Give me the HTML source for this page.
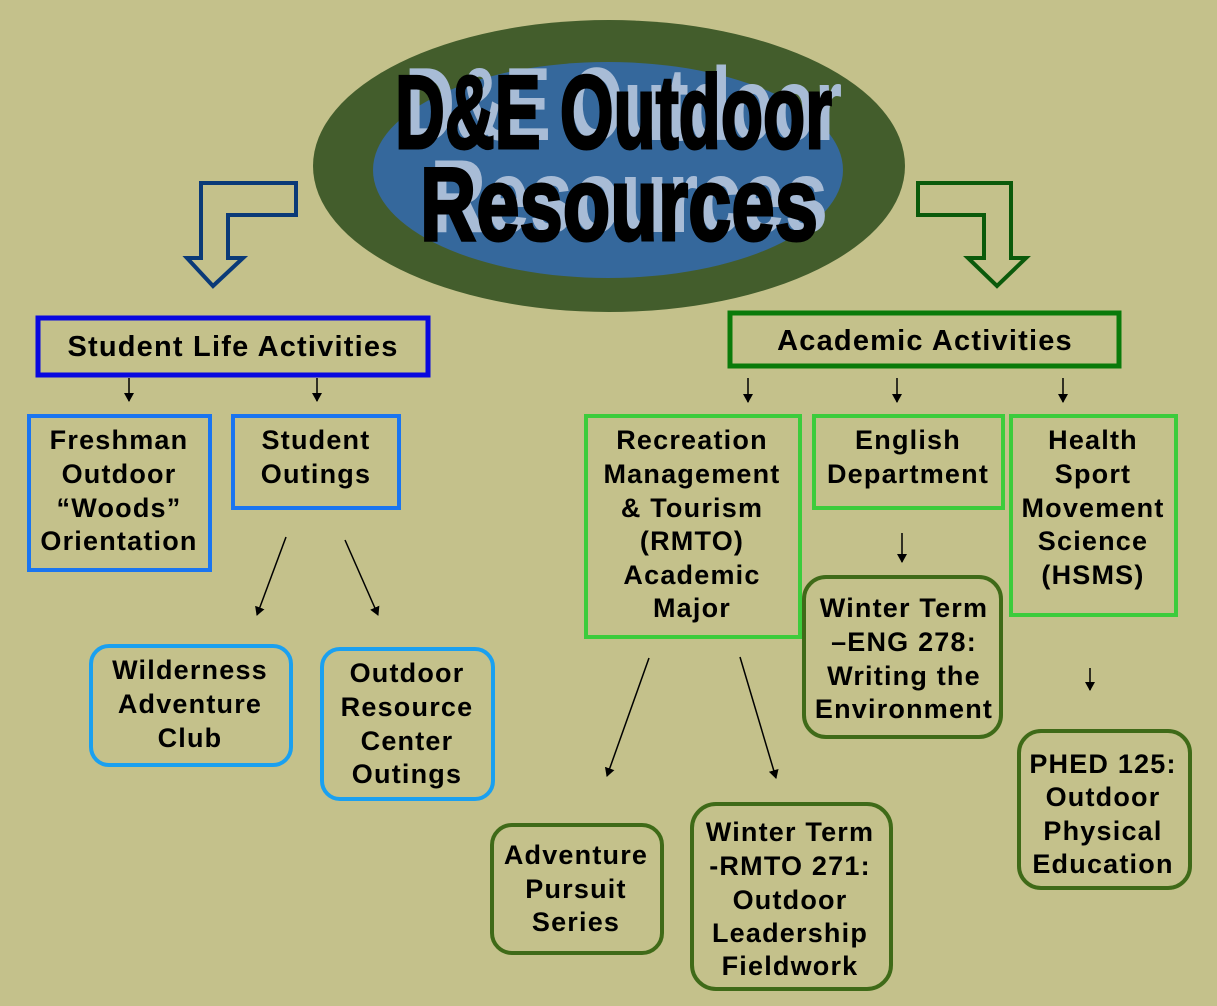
<!DOCTYPE html>
<html><head><meta charset="utf-8"><style>
html,body{margin:0;padding:0;background:#c4c18b;}
svg{display:block;}
.t{font-family:"Liberation Sans",Arial,sans-serif;font-weight:bold;font-size:27px;letter-spacing:1.2px;fill:#000;text-anchor:middle;}
.h{font-family:"Liberation Sans Narrow","Liberation Sans",sans-serif;font-weight:bold;font-size:104px;}
</style></head><body>
<svg width="1217" height="1006" viewBox="0 0 1217 1006" xmlns="http://www.w3.org/2000/svg">
<defs><marker id="a" markerWidth="10" markerHeight="10" refX="8" refY="5" orient="auto" markerUnits="userSpaceOnUse"><path d="M0,0 L9,5 L0,10 Z" fill="#000"/></marker></defs>
<rect width="1217" height="1006" fill="#c4c18b"/>
<ellipse cx="609" cy="166" rx="296" ry="146" fill="#435d2c"/>
<ellipse cx="608" cy="170" rx="235" ry="108" fill="#35689c"/>
<g class="h">
<text x="405" y="140" fill="#a8bcd6" textLength="437" lengthAdjust="spacingAndGlyphs">D&amp;E Outdoor</text>
<text x="430" y="232" fill="#a8bcd6" textLength="398" lengthAdjust="spacingAndGlyphs">Resources</text>
<text x="395" y="148" fill="#000" stroke="#000" stroke-width="3" textLength="437" lengthAdjust="spacingAndGlyphs">D&amp;E Outdoor</text>
<text x="420" y="240" fill="#000" stroke="#000" stroke-width="3" textLength="398" lengthAdjust="spacingAndGlyphs">Resources</text>
</g>
<path d="M296,183 L201,183 L201,258 L187,258 L213,286 L243,258 L228,258 L228,215 L296,215 Z" fill="none" stroke="#0a3a78" stroke-width="4"/>
<path d="M918,183 L1011,183 L1011,258 L1026,258 L997,286 L968,258 L984,258 L984,215 L918,215 Z" fill="none" stroke="#0b5a0b" stroke-width="4"/>
<g fill="none">
<rect x="38" y="318" width="390" height="57" stroke="#0808e0" stroke-width="5"/>
<rect x="29" y="416" width="181" height="154" stroke="#1a75f0" stroke-width="4"/>
<rect x="233" y="416" width="166" height="92" stroke="#1a75f0" stroke-width="4"/>
<rect x="91" y="646" width="200" height="119" rx="18" stroke="#1aa0f0" stroke-width="4"/>
<rect x="322" y="649" width="171" height="150" rx="18" stroke="#1aa0f0" stroke-width="4"/>
<rect x="730" y="313" width="389" height="53" stroke="#0a7a0a" stroke-width="5"/>
<rect x="586" y="416" width="214" height="221" stroke="#3ccc3c" stroke-width="4"/>
<rect x="814" y="416" width="189" height="92" stroke="#3ccc3c" stroke-width="4"/>
<rect x="1011" y="416" width="165" height="199" stroke="#3ccc3c" stroke-width="4"/>
<rect x="804" y="577" width="197" height="160" rx="22" stroke="#3f6a18" stroke-width="4"/>
<rect x="1019" y="731" width="171" height="157" rx="22" stroke="#3f6a18" stroke-width="4"/>
<rect x="492" y="825" width="170" height="128" rx="20" stroke="#3f6a18" stroke-width="4"/>
<rect x="692" y="804" width="199" height="185" rx="24" stroke="#3f6a18" stroke-width="4"/>
</g>
<g stroke="#000" stroke-width="1.5" marker-end="url(#a)">
<line x1="129" y1="378" x2="129" y2="401"/>
<line x1="317" y1="378" x2="317" y2="401"/>
<line x1="748" y1="378" x2="748" y2="402"/>
<line x1="897" y1="378" x2="897" y2="402"/>
<line x1="1063" y1="378" x2="1063" y2="402"/>
<line x1="902" y1="533" x2="902" y2="562"/>
<line x1="1090" y1="668" x2="1090" y2="690"/>
<line x1="286" y1="537" x2="257" y2="615"/>
<line x1="345" y1="540" x2="378" y2="615"/>
<line x1="649" y1="658" x2="607" y2="776"/>
<line x1="740" y1="657" x2="776" y2="778"/>
</g>
<g class="t">
<text x="233" y="356" font-size="29">Student Life Activities</text>
<text x="925" y="350" font-size="29">Academic Activities</text>
<text x="119" y="449">Freshman</text><text x="119" y="483">Outdoor</text><text x="119" y="517">“Woods”</text><text x="119" y="550">Orientation</text>
<text x="316" y="449">Student</text><text x="316" y="483">Outings</text>
<text x="190" y="679">Wilderness</text><text x="190" y="713">Adventure</text><text x="190" y="747">Club</text>
<text x="407" y="682">Outdoor</text><text x="407" y="716">Resource</text><text x="407" y="750">Center</text><text x="407" y="783">Outings</text>
<text x="692" y="449">Recreation</text><text x="692" y="483">Management</text><text x="692" y="517">&amp; Tourism</text><text x="692" y="550">(RMTO)</text><text x="692" y="584">Academic</text><text x="692" y="617">Major</text>
<text x="908" y="449">English</text><text x="908" y="483">Department</text>
<text x="1093" y="449">Health</text><text x="1093" y="483">Sport</text><text x="1093" y="517">Movement</text><text x="1093" y="550">Science</text><text x="1093" y="584">(HSMS)</text>
<text x="904" y="617">Winter Term</text><text x="904" y="651">–ENG 278:</text><text x="904" y="685">Writing the</text><text x="904" y="718">Environment</text>
<text x="1103" y="773">PHED 125:</text><text x="1103" y="806">Outdoor</text><text x="1103" y="840">Physical</text><text x="1103" y="873">Education</text>
<text x="576" y="864">Adventure</text><text x="576" y="898">Pursuit</text><text x="576" y="931">Series</text>
<text x="790" y="841">Winter Term</text><text x="790" y="875">-RMTO 271:</text><text x="790" y="909">Outdoor</text><text x="790" y="942">Leadership</text><text x="790" y="975">Fieldwork</text>
</g>
</svg>
</body></html>
